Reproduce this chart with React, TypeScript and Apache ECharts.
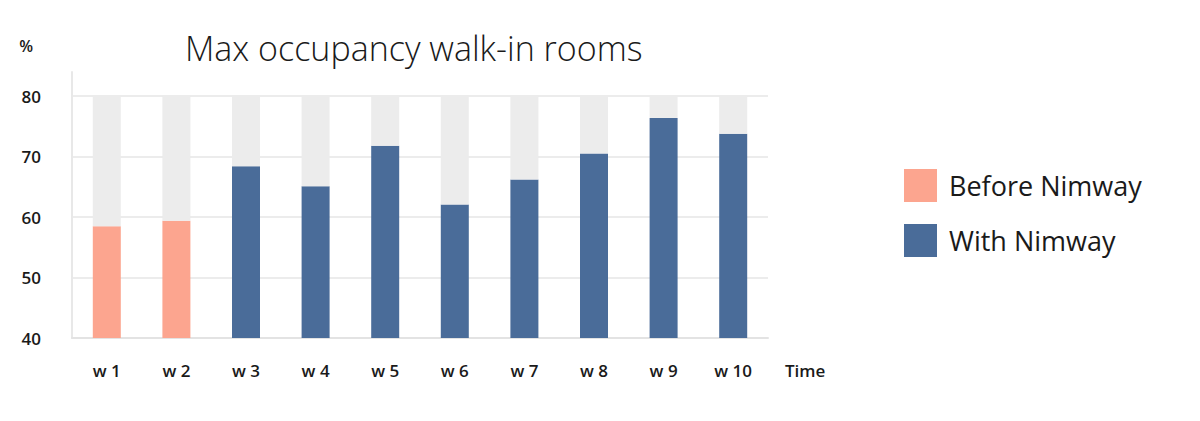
import React, { useEffect, useRef } from 'react';
import * as echarts from 'echarts';

const weeks = ['w 1', 'w 2', 'w 3', 'w 4', 'w 5', 'w 6', 'w 7', 'w 8', 'w 9', 'w 10'];
const beforeNimway = [58.5, 59.4, null, null, null, null, null, null, null, null];
const withNimway = [null, null, 68.4, 65.1, 71.8, 62.1, 66.2, 70.5, 76.4, 73.8];
const capacity = 80;
const yTicks = [40, 50, 60, 70, 80];

const FONT = '"Open Sans", "Noto Sans", sans-serif';

const App = () => {
  const chartRef = useRef<HTMLDivElement>(null);

  useEffect(() => {
    document.body.style.margin = '0';
    const chart = echarts.init(chartRef.current, null, { renderer: 'svg' });

    // grey remainder up to capacity, stacked on top of the value bars
    const remainder = weeks.map((_, i) => {
      const v = beforeNimway[i] ?? withNimway[i];
      return v == null ? null : capacity - v;
    });

    chart.setOption({
      animation: false,
      title: {
        text: 'Max occupancy walk-in rooms',
        left: 180,
        top: 26,
        textStyle: { fontFamily: FONT, fontSize: 34, fontWeight: 300, color: '#1a1a1a' },
      },
      legend: {
        orient: 'vertical',
        left: 899,
        top: 164,
        itemWidth: 33,
        itemHeight: 33,
        itemGap: 22,
        icon: 'rect',
        data: ['Before Nimway', 'With Nimway'],
        textStyle: { fontFamily: FONT, fontSize: 27, color: '#1a1a1a', padding: [0, 0, 0, 7] },
      },
      grid: { left: 72, right: 432, top: 72, bottom: 83 },
      xAxis: {
        type: 'category',
        data: weeks,
        name: 'Time',
        nameLocation: 'end',
        nameGap: 17,
        nameTextStyle: {
          fontFamily: FONT, fontSize: 17, fontWeight: 600, color: '#1a1a1a',
          verticalAlign: 'top', padding: [24, 0, 0, 0],
        },
        axisLine: { lineStyle: { color: '#e3e3e3', width: 2 } },
        axisTick: { show: false },
        axisLabel: { fontFamily: FONT, fontSize: 17, fontWeight: 600, color: '#1a1a1a', margin: 24 },
      },
      yAxis: {
        type: 'value',
        min: yTicks[0],
        max: 84,
        interval: 10,
        name: '%',
        nameLocation: 'end',
        nameGap: 18,
        nameTextStyle: {
          fontFamily: FONT, fontSize: 16, fontWeight: 600, color: '#1a1a1a',
          align: 'right', padding: [0, 39, 0, 0],
        },
        axisLine: { show: true, lineStyle: { color: '#e8e8e8', width: 2 } },
        axisTick: { show: false },
        axisLabel: {
          fontFamily: FONT, fontSize: 17, fontWeight: 600, color: '#1a1a1a',
          margin: 31, showMaxLabel: false,
        },
        splitLine: { showMaxLine: false, lineStyle: { color: '#e6e6e6', width: 1.5 } },
      },
      series: [
        {
          name: 'Before Nimway',
          type: 'bar',
          stack: 'week',
          barWidth: 28,
          data: beforeNimway,
          itemStyle: { color: '#fca58f' },
        },
        {
          name: 'With Nimway',
          type: 'bar',
          stack: 'week',
          barWidth: 28,
          data: withNimway,
          itemStyle: { color: '#4a6c99' },
        },
        {
          name: 'Capacity',
          type: 'bar',
          stack: 'week',
          barWidth: 28,
          data: remainder,
          itemStyle: { color: '#ececec' },
        },
      ],
    });

    const onResize = () => chart.resize();
    window.addEventListener('resize', onResize);
    return () => {
      window.removeEventListener('resize', onResize);
      chart.dispose();
    };
  }, []);

  return <div ref={chartRef} style={{ width: 1200, height: 421 }} />;
};

export default App;
